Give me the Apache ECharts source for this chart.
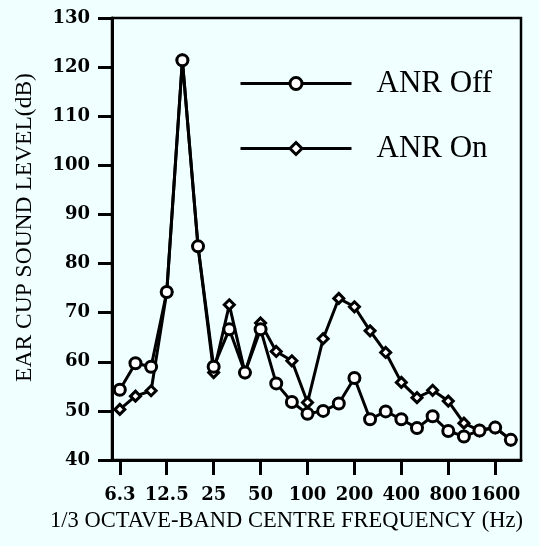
<!DOCTYPE html>
<html>
<head>
<meta charset="utf-8">
<script src="https://cdn.jsdelivr.net/npm/echarts@6/dist/echarts.min.js"></script>
<style>
  html, body { margin: 0; padding: 0; background: #F0FFFF; }
  #chart { width: 539px; height: 546px; }
</style>
</head>
<body>
<div id="chart"></div>
<script>
  // 1/3 octave band centre frequencies (Hz)
  var bands = ['6.3', '8', '10', '12.5', '16', '20', '25', '31.5', '40', '50', '63', '80', '100',
    '125', '160', '200', '250', '315', '400', '500', '630', '800', '1000', '1250', '1600', '2000'];
  var labelIdx = [0, 3, 6, 9, 12, 15, 18, 21, 24];

  // ear cup sound level (dB)
  var anrOff = [54.3, 59.7, 59.0, 74.2, 121.4, 83.5, 59.0, 66.6, 57.8, 66.6, 55.6, 51.8, 49.4,
    50.0, 51.5, 56.7, 48.3, 49.9, 48.3, 46.5, 48.9, 45.9, 44.8, 46.0, 46.6, 44.1];
  var anrOn = [50.3, 53.0, 54.1, 74.2, 121.4, 83.5, 57.8, 71.6, 57.8, 67.9, 62.1, 60.2, 51.7,
    64.7, 72.9, 71.2, 66.3, 61.9, 55.8, 52.7, 54.2, 52.0, 47.5, 46.0, 46.6, 44.1];

  function pairs(arr) {
    return arr.map(function (v, i) { return [i, v]; });
  }

  var serif = '"Liberation Serif", "Times New Roman", serif';
  var tickFont = '"DejaVu Serif", serif';

  var chart = echarts.init(document.getElementById('chart'));
  var option = {
    backgroundColor: '#F0FFFF',
    animation: false,
    grid: {
      left: 112, top: 18, right: 18, bottom: 86,
      show: true, borderColor: '#000', borderWidth: 2.5, backgroundColor: 'transparent'
    },
    legend: {
      orient: 'vertical',
      left: 234, top: 63,
      itemWidth: 111, itemHeight: 15,
      itemGap: 34,
      lineStyle: { color: '#000', width: 3 },
      itemStyle: { color: '#fff', borderColor: '#000', borderWidth: 3 },
      textStyle: { fontFamily: serif, fontSize: 31, color: '#000', padding: [0, 0, 0, 20] },
      data: ['ANR Off', 'ANR On']
    },
    xAxis: {
      type: 'value',
      min: -0.5, max: 25.65,
      splitLine: { show: false },
      axisLine: { onZero: false, lineStyle: { color: '#000', width: 3 } },
      axisTick: { show: true, length: 15, lineStyle: { color: '#000', width: 3 }, customValues: labelIdx },
      axisLabel: {
        customValues: labelIdx,
        margin: 26,
        fontFamily: tickFont, fontWeight: 'bold', fontSize: 18, color: '#000',
        formatter: function (v) { return bands[v]; }
      },
      name: '1/3 OCTAVE-BAND CENTRE FREQUENCY (Hz)',
      nameLocation: 'middle',
      nameGap: 50,
      nameTextStyle: { fontFamily: serif, fontSize: 22.5, color: '#000', padding: [0, 60, 0, 0] }
    },
    yAxis: {
      type: 'value',
      min: 40, max: 130, interval: 10,
      splitLine: { show: false },
      axisLine: { show: true, onZero: false, lineStyle: { color: '#000', width: 3 } },
      axisTick: { show: true, length: 14, lineStyle: { color: '#000', width: 3 } },
      axisLabel: { margin: 22, fontFamily: tickFont, fontWeight: 'bold', fontSize: 18, color: '#000' },
      name: 'EAR CUP SOUND LEVEL(dB)',
      nameLocation: 'middle',
      nameGap: 75,
      nameTextStyle: { fontFamily: serif, fontSize: 23.5, color: '#000', padding: [0, 0, 0, 23] }
    },
    series: [
      {
        name: 'ANR On',
        type: 'line',
        data: pairs(anrOn),
        symbol: 'diamond',
        symbolSize: 10,
        z: 2,
        lineStyle: { color: '#000', width: 3 },
        itemStyle: { color: '#fff', borderColor: '#000', borderWidth: 3 }
      },
      {
        name: 'ANR Off',
        type: 'line',
        data: pairs(anrOff),
        symbol: 'circle',
        symbolSize: 11,
        z: 3,
        lineStyle: { color: '#000', width: 3 },
        itemStyle: { color: '#fff', borderColor: '#000', borderWidth: 3 }
      }
    ]
  };
  chart.setOption(option);
</script>
</body>
</html>
